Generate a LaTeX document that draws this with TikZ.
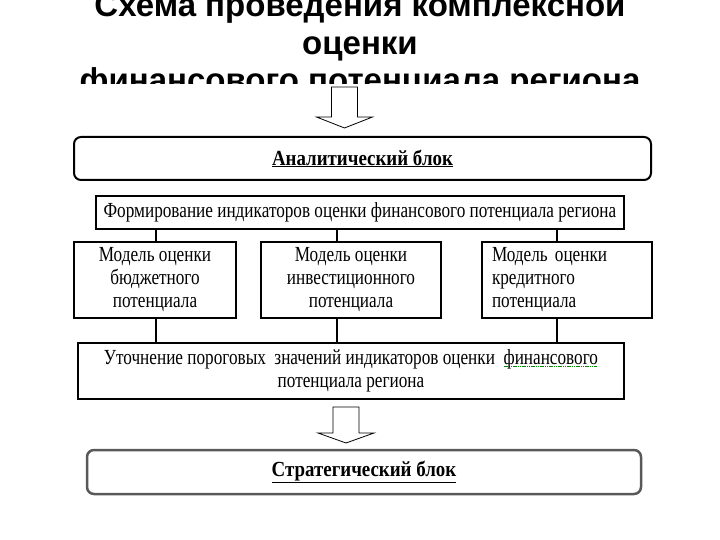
\documentclass[tikz,border=0pt]{standalone}
\usepackage{fontspec}
\setmainfont{Liberation Serif}
\newfontfamily\titlefont{Liberation Sans}
\newfontfamily\boxfont[FakeStretch=0.8]{Liberation Serif}
\newfontfamily\blockfont[FakeStretch=0.88]{Liberation Serif}
\usetikzlibrary{calc}
\def\hollowarrow(#1:#2:#3:#4){\draw[fill=white, line width=0.8pt] (#1-13,#2) -- (#1+13,#2) -- (#1+13,#3) -- (#1+28,#3) -- (#1,#4) -- (#1-28,#3) -- (#1-13,#3) -- cycle;}
\newcommand\spellmark[1]{\setbox0\hbox{#1}\rlap{\textcolor{green!55!black}{\hbox to \wd0{\leaders\hbox{\rule[-2.5pt]{1.2pt}{0.8pt}\hskip0.6pt}\hfill}}}\box0}

\begin{document}
\begin{tikzpicture}[x=1pt, y=-1pt,
		titleline/.style={anchor=base, font=\titlefont\bfseries\fontsize{33}{38}\selectfont},
		box/.style={draw, line width=1.4pt, inner sep=0pt, align=center, font=\boxfont\fontsize{21.5}{23}\selectfont},
		block/.style={draw, line width=2pt, rounded corners=7pt, inner sep=0pt, font=\blockfont\bfseries\fontsize{21.5}{23}\selectfont}]
			%%%%% START %%%%%
			
			\useasboundingbox[fill=white] (0,0) rectangle (720,540);
			
			\begin{scope}
				\clip (0,0) rectangle (720,84);
				\node[titleline] (title1) at (360,17) {Схема проведения комплексной};
				\node[titleline] (title2) at (360,55) {оценки};
				\node[titleline] (title3) at (360,92) {финансового потенциала региона};
			\end{scope}
			
			\hollowarrow(344.5:87:117:128);
			
			\node[block, minimum width=577pt, minimum height=43pt] (analytic) at (362.5,158.5) {\underline{Аналитический блок}};
			
			\node[box, minimum width=528pt, minimum height=33pt] (form) at (360,212.5) {Формирование индикаторов оценки финансового потенциала региона};
			
			\node[box, minimum width=162pt, minimum height=76pt] (budget) at (155,280) {Модель оценки\\бюджетного\\потенциала};
			\node[box, minimum width=180pt, minimum height=76pt] (invest) at (351,280) {Модель оценки\\инвестиционного\\потенциала};
			\node[box, text width=150pt, align=left, inner xsep=10pt, minimum height=76pt] (credit) at (567,280) {Модель оценки\\кредитного\\потенциала};
			
			\node[box, minimum width=546pt, minimum height=56pt] (refine) at (351,371) {Уточнение пороговых\ \ значений индикаторов оценки\ \ \spellmark{финансового}\\потенциала региона};
			
			\coordinate (c1) at (156,0);
			\coordinate (c2) at (337,0);
			\coordinate (c3) at (557,0);
			\foreach \c/\m in {c1/budget, c2/invest, c3/credit} {
				\draw[line width=1.1pt] (form.south -| \c) -- (\m.north -| \c);
				\draw[line width=1.1pt] (\m.south -| \c) -- (refine.north -| \c);
			}
			
			\hollowarrow(346:407:433:443);
			
			\node[block, draw=black!65, line width=2.5pt, minimum width=554pt, minimum height=44pt] (strategic) at (364,472) {\underline{Стратегический блок}};
			
			%%%%% END %%%%%
\end{tikzpicture}
\end{document}
